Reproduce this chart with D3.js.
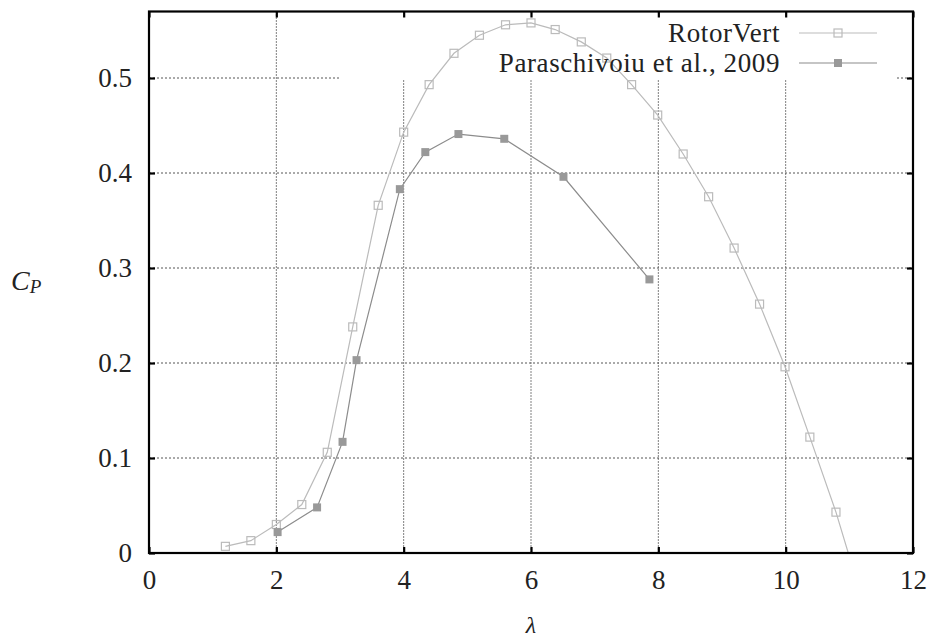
<!DOCTYPE html>
<html>
<head>
<meta charset="utf-8">
<script src="https://cdn.jsdelivr.net/npm/d3@7"></script>
<style>
  body { margin: 0; background: #fff; }
  svg text { font-family: "Times New Roman", "Liberation Serif", "DejaVu Serif", serif !important; fill: #222; }
</style>
</head>
<body>
<div id="chart"></div>
<script>
// RotorVert (open squares)
var rotorLambda = [1.2, 1.6, 2.0, 2.4, 2.8, 3.2, 3.6, 4.0, 4.4, 4.79, 5.19, 5.6, 6.0, 6.38, 6.79, 7.19, 7.58, 7.99, 8.39, 8.79, 9.19, 9.59, 9.99, 10.38, 10.79, 11.19];
var rotorCp     = [0.007, 0.013, 0.030, 0.051, 0.106, 0.238, 0.366, 0.443, 0.493, 0.526, 0.545, 0.556, 0.558, 0.551, 0.538, 0.521, 0.493, 0.461, 0.420, 0.375, 0.321, 0.262, 0.196, 0.122, 0.043, -0.046];
// Paraschivoiu et al., 2009 (filled squares)
var parLambda = [2.02, 2.64, 3.04, 3.26, 3.94, 4.34, 4.86, 5.58, 6.51, 7.86];
var parCp     = [0.022, 0.048, 0.117, 0.203, 0.383, 0.422, 0.441, 0.436, 0.396, 0.288];

var xTicks = [0, 2, 4, 6, 8, 10, 12];
var yTicks = [0, 0.1, 0.2, 0.3, 0.4, 0.5];
var seriesNames = ["RotorVert", "Paraschivoiu et al., 2009"];

var W = 933, H = 637;
var margin = {top: 11.5, right: 20, bottom: 84, left: 149};
var pw = 913 - margin.left, ph = 553 - margin.top;
var fontSize = 27;

var x = d3.scaleLinear().domain([0, 12]).range([0, pw]);
var y = d3.scaleLinear().domain([0, 0.57]).range([ph, 0]);

var svg = d3.select("#chart").append("svg")
    .attr("width", W).attr("height", H);

svg.append("defs").append("clipPath").attr("id", "clip")
  .append("rect").attr("width", pw).attr("height", ph);

var g = svg.append("g").attr("transform", "translate(" + margin.left + "," + margin.top + ")");

// grid
g.selectAll(".vgrid").data(xTicks.slice(1, -1)).enter().append("line")
    .attr("x1", function(d) { return x(d); }).attr("x2", function(d) { return x(d); })
    .attr("y1", 0).attr("y2", ph)
    .attr("stroke", "#000").attr("stroke-width", 1).attr("stroke-dasharray", "1,2");
g.selectAll(".hgrid").data(yTicks.slice(1)).enter().append("line")
    .attr("x1", 0).attr("x2", pw)
    .attr("y1", function(d) { return y(d); }).attr("y2", function(d) { return y(d); })
    .attr("stroke", "#555").attr("stroke-width", 1).attr("stroke-dasharray", "2,2");

// legend box clears grid
var legX0 = 339 - margin.left, legX1 = 895 - margin.left, legY1 = 80 - margin.top;
g.append("rect").attr("x", legX0).attr("y", 1).attr("width", legX1 - legX0).attr("height", legY1 - 1)
    .attr("fill", "#fff");

// series
var line = d3.line().x(function(d) { return x(d[0]); }).y(function(d) { return y(d[1]); });
var rotor = d3.zip(rotorLambda, rotorCp);
var par = d3.zip(parLambda, parCp);
var sq = 8;

var plot = g.append("g").attr("clip-path", "url(#clip)");
plot.append("path").datum(rotor).attr("d", line)
    .attr("fill", "none").attr("stroke", "#bbb").attr("stroke-width", 1.2);
plot.selectAll(".rsq").data(rotor).enter().append("rect")
    .attr("x", function(d) { return x(d[0]) - sq / 2; }).attr("y", function(d) { return y(d[1]) - sq / 2; })
    .attr("width", sq).attr("height", sq)
    .attr("fill", "none").attr("stroke", "#bbb").attr("stroke-width", 1.2);
plot.append("path").datum(par).attr("d", line)
    .attr("fill", "none").attr("stroke", "#8c8c8c").attr("stroke-width", 1.2);
plot.selectAll(".psq").data(par).enter().append("rect")
    .attr("x", function(d) { return x(d[0]) - sq / 2; }).attr("y", function(d) { return y(d[1]) - sq / 2; })
    .attr("width", sq).attr("height", sq)
    .attr("fill", "#999");

// frame and ticks
g.append("rect").attr("width", pw).attr("height", ph)
    .attr("fill", "none").attr("stroke", "#000").attr("stroke-width", 2.2);

var tk = 6;
var xAxis = d3.axisBottom(x).tickValues(xTicks).tickSize(-tk).tickPadding(17).tickFormat(d3.format("d"));
var xTop = d3.axisTop(x).tickValues(xTicks).tickSize(-tk).tickFormat("");
var yAxis = d3.axisLeft(y).tickValues(yTicks).tickSize(-tk).tickPadding(17)
    .tickFormat(function(d) { return d === 0 ? "0" : d3.format(".1f")(d); });
var yRight = d3.axisRight(y).tickValues(yTicks).tickSize(-tk).tickFormat("");

function styleAxis(sel) {
  sel.attr("font-family", null);
  sel.select(".domain").remove();
  sel.selectAll(".tick line").attr("stroke", "#000").attr("stroke-width", 2.2);
  sel.selectAll(".tick text").attr("font-size", fontSize).attr("fill", "#222");
}
g.append("g").attr("transform", "translate(0," + ph + ")").call(xAxis).call(styleAxis);
g.append("g").call(xTop).call(styleAxis);
g.append("g").call(yAxis).call(styleAxis);
g.append("g").attr("transform", "translate(" + pw + ",0)").call(yRight).call(styleAxis);

// axis titles
svg.append("text").attr("x", x(6) + margin.left).attr("y", 633)
    .attr("text-anchor", "middle").attr("font-size", 24).attr("font-style", "italic").text("λ");
var cp = svg.append("text").attr("x", 11).attr("y", 290).attr("font-size", 28).attr("font-style", "italic");
cp.append("tspan").text("C");
cp.append("tspan").attr("dy", 3).attr("font-size", 19).text("P");

// legend
var legRows = [
  {name: seriesNames[0], y: 33, stroke: "#bbb", fill: "none"},
  {name: seriesNames[1], y: 63, stroke: "#8c8c8c", fill: "#999"}
];
legRows.forEach(function(r) {
  svg.append("text").attr("x", 780).attr("y", r.y + 9)
      .attr("text-anchor", "end").attr("font-size", fontSize)
      .attr("letter-spacing", 0.6).text(r.name);
  svg.append("line").attr("x1", 799).attr("x2", 877).attr("y1", r.y).attr("y2", r.y)
      .attr("stroke", r.stroke).attr("stroke-width", 1.2);
  svg.append("rect").attr("x", 838 - sq / 2).attr("y", r.y - sq / 2).attr("width", sq).attr("height", sq)
      .attr("fill", r.fill).attr("stroke", r.fill === "none" ? r.stroke : "none").attr("stroke-width", 1.2);
});
</script>
</body>
</html>
